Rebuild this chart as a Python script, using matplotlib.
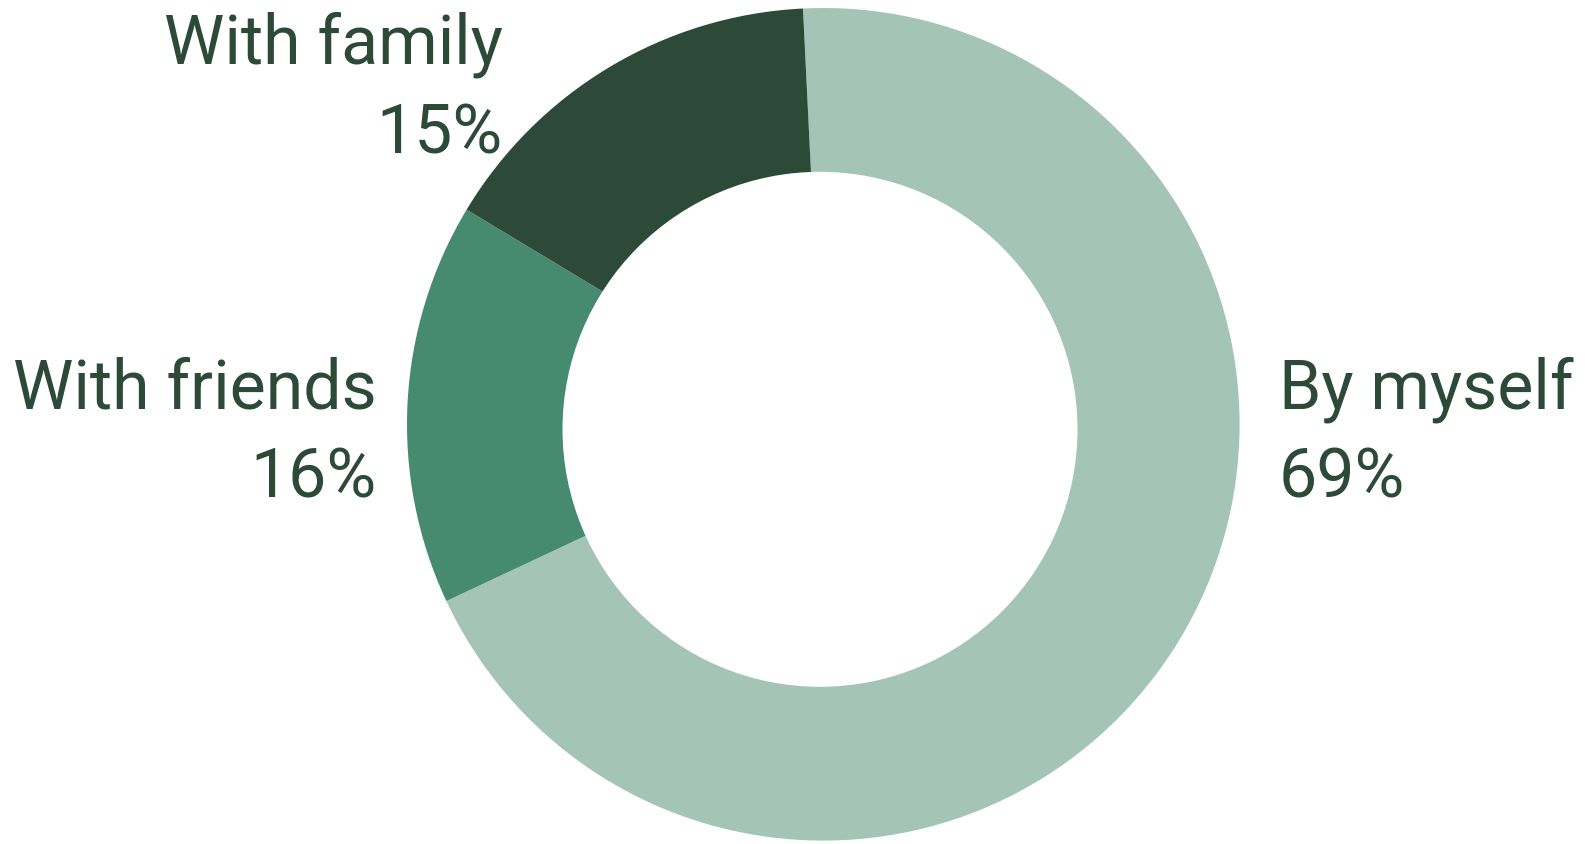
import matplotlib
matplotlib.use("Agg")
import matplotlib.pyplot as plt
from matplotlib.patches import Circle

categories = ["By myself", "With friends", "With family"]
values = [68.8, 15.6, 15.6]
labels_pct = ["69%", "16%", "15%"]
colors = ["#a5c4b8", "#468a6f", "#2c4a37"]
text_color = "#2c4a37"

W, H = 1585, 845
fig = plt.figure(figsize=(W / 100, H / 100), dpi=100)
ax = fig.add_axes([0, 0, 1, 1])

cx, cy = 823.3, H - 425.3
R = 416.3
hx, hy, r = 820, H - 430.3, 257.5
ax.pie(values, colors=colors, startangle=92.8, counterclock=False,
       center=(cx, cy), radius=R, frame=True,
       wedgeprops=dict(linewidth=0, antialiased=True))
ax.add_patch(Circle((hx, hy), r, facecolor="white", edgecolor="none", zorder=5))
ax.set_xlim(0, W)
ax.set_ylim(0, H)
ax.set_aspect("equal")
ax.axis("off")

font = dict(family=["Roboto", "DejaVu Sans"], fontsize=49, color=text_color)
pos = {
    "By myself": (1279, H - 409, "left"),
    "With friends": (377, H - 409, "right"),
    "With family": (503, H - 64, "right"),
}
for cat, pct in zip(categories, labels_pct):
    x, y, ha = pos[cat]
    ax.text(x, y, cat, ha=ha, va="baseline", **font)
    ax.text(x, y - 89, pct, ha=ha, va="baseline", **font)

fig.savefig("out.png", dpi=100)
